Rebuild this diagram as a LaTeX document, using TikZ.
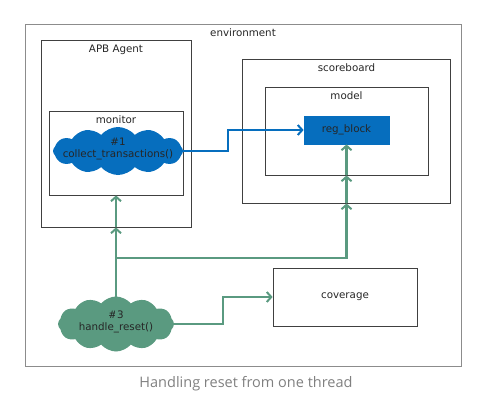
\documentclass[tikz,border=0pt]{standalone}
\usepackage{fontspec}
\setmainfont{DejaVu Sans}
\newfontfamily\capfont{Open Sans}
\usetikzlibrary{arrows.meta,shapes.symbols}
\definecolor{thrblue}{RGB}{6,110,190}
\definecolor{thrgreen}{RGB}{90,154,128}
\begin{document}
\begin{tikzpicture}[x=1pt,y=-1pt,font=\fontsize{10.3}{12}\selectfont,text=black!85,
  box/.style={draw=black!75,fill=white,line width=0.8pt,inner sep=0pt},
  lbl/.style={label={[anchor=north,inner sep=0pt,yshift=-5pt]north:#1}},
  cl/.style={cloud,cloud puffs=12,cloud puff arc=100,aspect=2.6,inner sep=0pt},
  ar/.style={-{Straight Barb[length=4.5pt,width=10pt,line width=2pt]},line width=2.4pt},
  bar/.style={ar,thrblue},gar/.style={ar,thrgreen}]
\useasboundingbox (0,0) rectangle (481,401);
\node[box,draw=black!45,minimum width=436pt,minimum height=342pt,lbl=environment] (env) at (243,195) {};
\node[box,minimum width=150pt,minimum height=187pt,lbl=APB Agent] (agent) at (116,133.5) {};
\node[box,minimum width=134pt,minimum height=84pt,lbl=monitor] (mon) at (116,153) {};
\node[cl,fill=thrblue,minimum width=130pt,minimum height=48pt,
  label={[align=center,yshift=2pt]center:\#1\\collect\_transactions()}] (col) at (118,151) {};
\node[box,minimum width=208pt,minimum height=144pt,lbl=scoreboard] (sb) at (346.5,131) {};
\node[box,minimum width=163pt,minimum height=88pt,lbl=model] (model) at (346.5,131) {};
\node[box,draw=thrblue,fill=thrblue,minimum width=85pt,minimum height=28pt] (reg) at (346.5,130) {reg\_block};
\node[box,minimum width=144pt,minimum height=58pt] (cov) at (345,297) {coverage};
\node[cl,fill=thrgreen,minimum width=116pt,minimum height=55pt,
  label={[align=center,yshift=2pt]center:\#3\\handle\_reset()}] (hr) at (116,324) {};
\coordinate (bk) at (228,0);
\coordinate (ck) at (223,0);
\coordinate (jn) at (116,258);
\draw[bar] (col.east) -- (col.east -| bk) |- (reg.west);
\draw[thrgreen,line width=2.4pt] (hr.center) -- (jn);
\draw[gar] (jn) -- (agent.south);
\draw[gar] (agent.south) -- (mon.south);
\draw[gar] (jn) -| (sb.south);
\draw[gar] (sb.south) -- (model.south);
\draw[gar] (model.south) -- (reg.south);
\draw[gar] (hr.east) -- (hr.east -| ck) |- (cov.west);
\node[font=\capfont\fontsize{14.5}{17}\selectfont,text=black!50] (cap) at (246,384) {Handling reset from one thread};
\end{tikzpicture}
\end{document}
